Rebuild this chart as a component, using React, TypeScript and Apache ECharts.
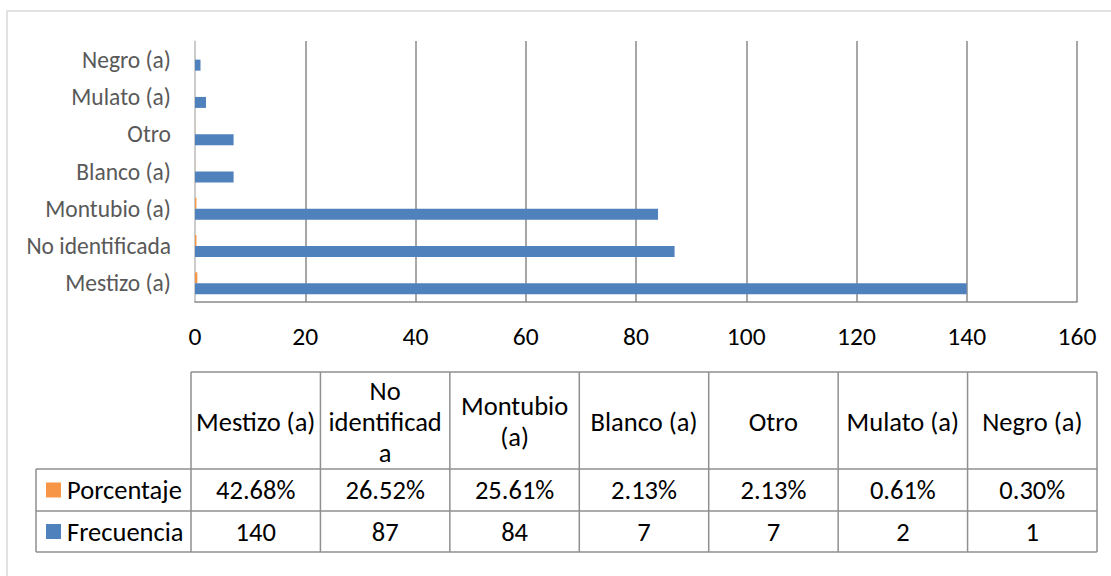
import React, { useEffect, useRef } from "react";
import * as echarts from "echarts";

const categories = ["Mestizo (a)", "No identificada", "Montubio (a)", "Blanco (a)", "Otro", "Mulato (a)", "Negro (a)"];
const tableHeaders = ["Mestizo (a)", "No\nidentificad\na", "Montubio\n(a)", "Blanco (a)", "Otro", "Mulato (a)", "Negro (a)"];
const porcentaje = [0.4268, 0.2652, 0.2561, 0.0213, 0.0213, 0.0061, 0.003];
const frecuencia = [140, 87, 84, 7, 7, 2, 1];
const seriesNames = ["Porcentaje", "Frecuencia"];
const seriesColors = ["#F79646", "#4F81BD"];
const xMin = 0;
const xMax = 160;
const xInterval = 20;

const FONT = "Carlito, Lato, 'Noto Sans', sans-serif";

export default function App() {
  const ref = useRef<HTMLDivElement>(null);
  useEffect(() => {
    if (!ref.current) return;
    const chart = echarts.init(ref.current, undefined, { renderer: "svg" });

    const tLeft = 36;
    const colStart = 191;
    const colRight = 1097;
    const colW = (colRight - colStart) / categories.length;
    const yTop = 372;
    const yHead = 469;
    const yRow1 = 511;
    const yRow2 = 552;
    const lineStyle = { stroke: "#8f8f8f", lineWidth: 1.5 };
    const tableFont = 26.5;

    const g: any[] = [];
    g.push({
      type: "rect",
      shape: { x: 7, y: 11, width: 1200, height: 700 },
      style: { fill: "none", stroke: "#d9d9d9", lineWidth: 1.5 },
      silent: true,
    });
    g.push({ type: "line", shape: { x1: colStart, y1: yTop, x2: colRight, y2: yTop }, style: lineStyle });
    [yHead, yRow1, yRow2].forEach((y) =>
      g.push({ type: "line", shape: { x1: tLeft, y1: y, x2: colRight, y2: y }, style: lineStyle })
    );
    g.push({ type: "line", shape: { x1: tLeft, y1: yHead, x2: tLeft, y2: yRow2 }, style: lineStyle });
    for (let i = 0; i <= categories.length; i++) {
      const x = colStart + i * colW;
      g.push({ type: "line", shape: { x1: x, y1: yTop, x2: x, y2: yRow2 }, style: lineStyle });
    }
    const rowsY = [(yHead + yRow1) / 2, (yRow1 + yRow2) / 2];
    const rowsText = [
      porcentaje.map((v) => (v * 100).toFixed(2) + "%"),
      frecuencia.map((v) => String(v)),
    ];
    tableHeaders.forEach((h, i) => {
      g.push({
        type: "text",
        x: colStart + (i + 0.5) * colW,
        y: (yTop + yHead) / 2 + 1,
        style: {
          text: h,
          align: "center",
          verticalAlign: "middle",
          fontFamily: FONT,
          fontSize: tableFont,
          lineHeight: 31,
          fill: "#000",
        },
      });
    });
    rowsText.forEach((row, r) => {
      row.forEach((t, i) => {
        g.push({
          type: "text",
          x: colStart + (i + 0.5) * colW,
          y: rowsY[r],
          style: { text: t, align: "center", verticalAlign: "middle", fontFamily: FONT, fontSize: tableFont, fill: "#000" },
        });
      });
      g.push({
        type: "rect",
        shape: { x: 46, y: rowsY[r] - 7.5, width: 15, height: 15 },
        style: { fill: seriesColors[r] },
      });
      g.push({
        type: "text",
        x: 67,
        y: rowsY[r],
        style: { text: seriesNames[r], align: "left", verticalAlign: "middle", fontFamily: FONT, fontSize: tableFont, fill: "#000" },
      });
    });

    chart.setOption({
      animation: false,
      backgroundColor: "#fff",
      textStyle: { fontFamily: FONT },
      grid: { left: 195, right: 34, top: 41, bottom: 274, containLabel: false },
      xAxis: {
        type: "value",
        min: xMin,
        max: xMax,
        interval: xInterval,
        axisLine: { show: true, lineStyle: { color: "#8a8a8a", width: 1.5 } },
        axisTick: { show: false },
        splitLine: { show: true, lineStyle: { color: "#8a8a8a", width: 1.5 } },
        axisLabel: { fontSize: 25.5, color: "#000", margin: 21, fontFamily: FONT },
      },
      yAxis: {
        type: "category",
        data: categories,
        axisLine: { show: true, lineStyle: { color: "#d9d9d9", width: 1.5 } },
        axisTick: { show: false },
        axisLabel: { fontSize: 23.5, color: "#595959", margin: 24, fontFamily: FONT },
      },
      series: [
        {
          name: seriesNames[0],
          type: "bar",
          data: porcentaje,
          itemStyle: { color: seriesColors[0] },
          barGap: "0%",
          barCategoryGap: "41%",
        },
        {
          name: seriesNames[1],
          type: "bar",
          data: frecuencia,
          itemStyle: { color: seriesColors[1] },
          barGap: "0%",
          barCategoryGap: "41%",
        },
      ],
      graphic: g,
    });
    return () => chart.dispose();
  }, []);
  return (
    <div
      ref={ref}
      style={{ position: "fixed", left: 0, top: 0, width: 1111, height: 576 }}
    />
  );
}
